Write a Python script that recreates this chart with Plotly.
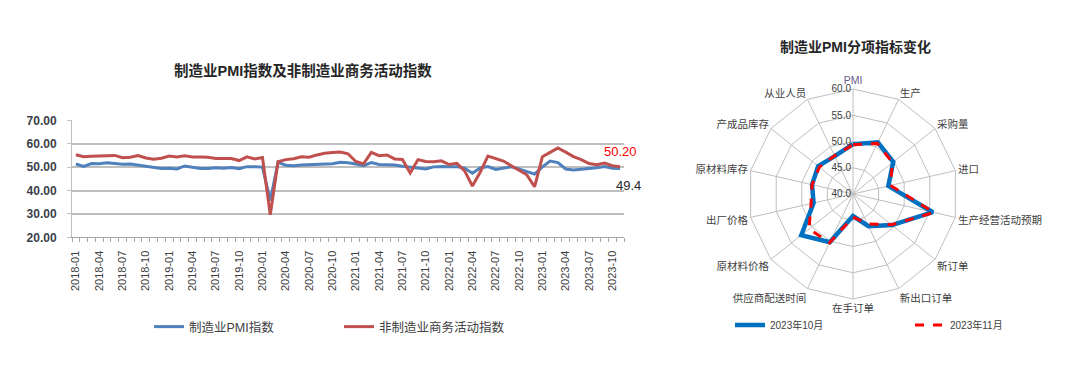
import pandas as pd
import plotly.graph_objects as go

# ---------------- data: left chart ----------------
months = [p.strftime("%Y-%m") for p in pd.period_range("2018-01", "2023-11", freq="M")]

mfg_pmi = [
    51.3, 50.3, 51.5, 51.4, 51.9, 51.5, 51.2, 51.3, 50.8, 50.2, 50.0, 49.4,   # 2018
    49.5, 49.2, 50.5, 50.1, 49.4, 49.4, 49.7, 49.5, 49.8, 49.3, 50.2, 50.2,   # 2019
    50.0, 35.7, 52.0, 50.8, 50.6, 50.9, 51.1, 51.0, 51.5, 51.4, 52.1, 51.9,   # 2020
    51.3, 50.6, 51.9, 51.1, 51.0, 50.9, 50.4, 50.1, 49.6, 49.2, 50.1, 50.3,   # 2021
    50.1, 50.2, 49.5, 47.4, 49.6, 50.2, 49.0, 49.4, 50.1, 49.2, 48.0, 47.0,   # 2022
    50.1, 52.6, 51.9, 49.2, 48.8, 49.0, 49.3, 49.7, 50.2, 49.5, 49.4,         # 2023
]
nonmfg_index = [
    55.3, 54.4, 54.6, 54.8, 54.9, 55.0, 54.0, 54.2, 54.9, 53.9, 53.4, 53.8,   # 2018
    54.7, 54.3, 54.8, 54.3, 54.3, 54.2, 53.7, 53.8, 53.7, 52.8, 54.4, 53.5,   # 2019
    54.1, 29.6, 52.3, 53.2, 53.6, 54.4, 54.2, 55.2, 55.9, 56.2, 56.4, 55.7,   # 2020
    52.4, 51.4, 56.3, 54.9, 55.2, 53.5, 53.3, 47.5, 53.2, 52.4, 52.3, 52.7,   # 2021
    51.1, 51.6, 48.4, 41.9, 47.8, 54.7, 53.8, 52.6, 50.6, 48.7, 46.7, 41.6,   # 2022
    54.4, 56.3, 58.2, 56.4, 54.5, 53.2, 51.5, 51.0, 51.7, 50.6, 50.2,         # 2023
]

# ---------------- data: radar chart ----------------
radar_categories = ["PMI", "生产", "采购量", "进口", "生产经营活动预期", "新订单",
                    "新出口订单", "在手订单", "供应商配送时间", "原材料价格",
                    "出厂价格", "原材料库存", "产成品库存", "从业人员"]
oct_2023 = [49.5, 50.9, 49.8, 46.9, 55.6, 49.5, 46.8, 44.2, 50.2, 52.6, 47.7, 48.0, 48.5, 48.0]
nov_2023 = [49.4, 50.7, 49.6, 47.3, 55.8, 49.4, 46.3, 44.4, 50.3, 50.7, 48.2, 48.0, 48.2, 48.1]

W, H = 1080, 378
FONT = "Liberation Sans, Noto Sans CJK SC, sans-serif"
TXT = "#404040"
GRID = "#bfbfbf"

n = len(months)
idx = list(range(n))

fig = go.Figure()
fig.add_trace(go.Scatter(x=idx, y=mfg_pmi, mode="lines", name="制造业PMI指数",
                         line=dict(color="#4f81bd", width=3), legend="legend"))
fig.add_trace(go.Scatter(x=idx, y=nonmfg_index, mode="lines", name="非制造业商务活动指数",
                         line=dict(color="#c0504d", width=3), legend="legend"))

theta = radar_categories + radar_categories[:1]
fig.add_trace(go.Scatterpolar(r=oct_2023 + oct_2023[:1], theta=theta, mode="lines",
                              name="2023年10月", line=dict(color="#0070c0", width=4.5),
                              legend="legend2"))
fig.add_trace(go.Scatterpolar(r=nov_2023 + nov_2023[:1], theta=theta, mode="lines",
                              name="2023年11月", line=dict(color="#ff0000", width=3, dash="dash"),
                              legend="legend2"))

# polar geometry
cx, cy, rad = 853, 194, 105
pol_x = [(cx - rad) / W, (cx + rad) / W]
pol_y = [1 - (cy + rad) / H, 1 - (cy - rad) / H]

ticktext_ang = [f"<span style='color:#6a5a8c'>{c}</span>" if c == "PMI" else c for c in radar_categories]

fig.update_layout(
    template="none",
    width=W, height=H,
    margin=dict(l=0, r=0, t=0, b=0, autoexpand=False),
    paper_bgcolor="white", plot_bgcolor="white",
    font=dict(family=FONT, color=TXT),
    xaxis=dict(domain=[72 / W, 624 / W], range=[-0.5, n - 0.5], automargin=False,
               tickvals=idx[::3], ticktext=months[::3], tickangle=-90,
               ticks="", ticklabelstandoff=8, showgrid=False, zeroline=False,
               showline=True, linecolor="#a6a6a6", linewidth=1,
               tickfont=dict(size=11, color=TXT),
               minor=dict(ticks="outside", tick0=-0.5, dtick=1, ticklen=4,
                          tickcolor="#a6a6a6", showgrid=False)),
    yaxis=dict(domain=[1 - 237.3 / H, 1 - 120.3 / H], range=[20, 70], dtick=10, automargin=False,
               tickformat=".2f", showgrid=True, gridcolor=GRID, gridwidth=1.5,
               showline=True, linecolor=GRID, zeroline=False,
               ticks="outside", ticklen=4, tickcolor=GRID, ticklabelstandoff=8,
               tickfont=dict(size=12, color="#3a3f4a", weight="bold")),
    polar=dict(
        domain=dict(x=pol_x, y=pol_y),
        bgcolor="white",
        gridshape="linear",
        angularaxis=dict(type="category", categoryarray=radar_categories,
                         tickvals=radar_categories, ticktext=ticktext_ang,
                         rotation=90, direction="clockwise",
                         gridcolor=GRID, linecolor=GRID, showline=True, ticks="",
                         tickfont=dict(size=10.5, color=TXT)),
        radialaxis=dict(range=[40, 60], tickvals=[40, 45, 50, 55, 60], tickformat=".1f",
                        angle=90, tickangle=90, side="counterclockwise",
                        gridcolor=GRID, showline=False, ticks="",
                        tickfont=dict(size=10, color=TXT)),
    ),
    legend=dict(orientation="h", x=149 / W, y=1 - 327 / H, xanchor="left", yanchor="middle",
                font=dict(size=12.5, color=TXT), entrywidth=145, itemwidth=30,
                bgcolor="rgba(0,0,0,0)"),
    legend2=dict(orientation="h", x=730 / W, y=1 - 325 / H, xanchor="left", yanchor="middle",
                 font=dict(size=10, color=TXT), entrywidth=135, itemwidth=30,
                 bgcolor="rgba(0,0,0,0)"),
    showlegend=True,
    annotations=[
        dict(text="<b>制造业PMI指数及非制造业商务活动指数</b>", x=303 / W, y=1 - 71 / H,
             xref="paper", yref="paper", xanchor="center", yanchor="middle",
             showarrow=False, font=dict(size=14.5, color="#262626")),
        dict(text="<b>制造业PMI分项指标变化</b>", x=855 / W, y=1 - 47 / H,
             xref="paper", yref="paper", xanchor="center", yanchor="middle",
             showarrow=False, font=dict(size=14, color="#262626")),
        dict(text=f"{nonmfg_index[-1]:.2f}", x=idx[-1], y=nonmfg_index[-1], xref="x", yref="y",
             xanchor="center", yanchor="middle",
             showarrow=False, yshift=15, font=dict(size=13, color="#ff0000")),
        dict(text=f"{mfg_pmi[-1]:.1f}", x=idx[-1], y=mfg_pmi[-1], xref="x", yref="y",
             xanchor="center", yanchor="middle",
             showarrow=False, xshift=8, yshift=-17, font=dict(size=13, color="#262626")),
    ],
)

fig.write_html("out.html", config={"displayModeBar": False},
               post_script="document.body.style.margin='0';document.body.style.padding='0';")
